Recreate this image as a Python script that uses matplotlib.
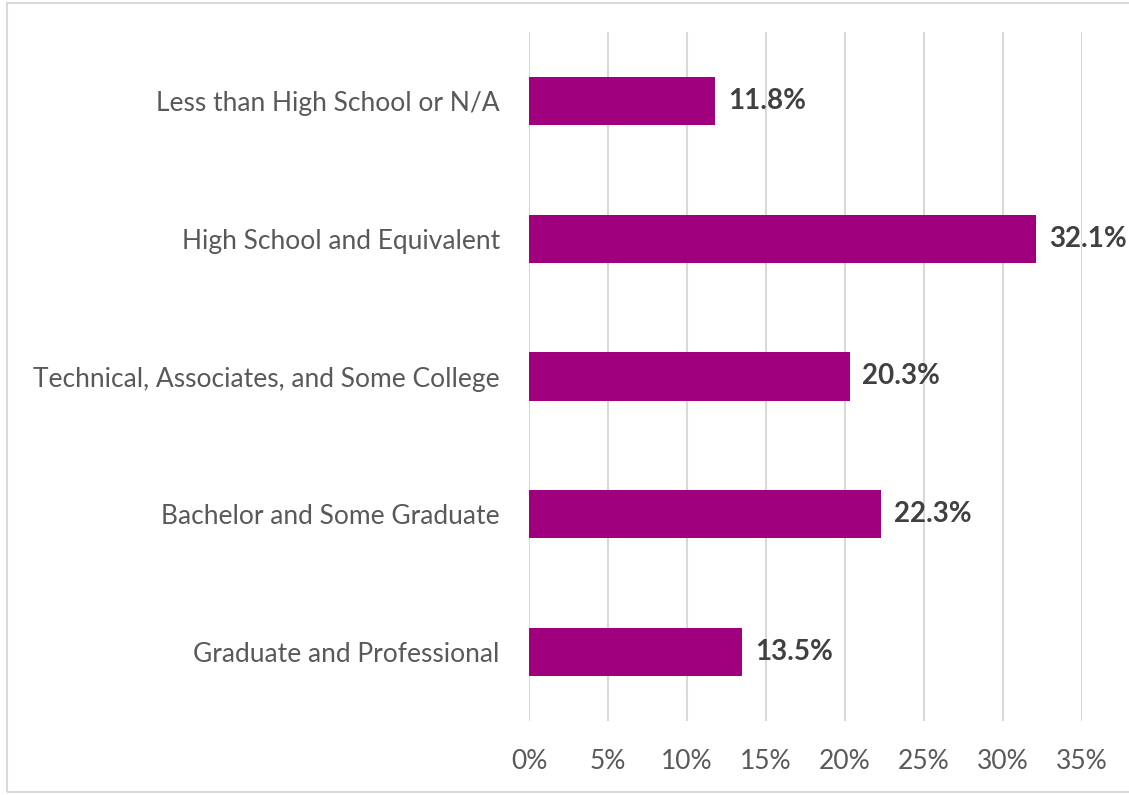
import matplotlib.pyplot as plt
from matplotlib.patches import Rectangle

# education levels, top to bottom
categories = [
    'Less than High School or N/A',
    'High School and Equivalent',
    'Technical, Associates, and Some College',
    'Bachelor and Some Graduate',
    'Graduate and Professional',
]
shares = [11.8, 32.1, 20.3, 22.3, 13.5]  # percent
x_ticks = [0, 5, 10, 15, 20, 25, 30, 35]

plt.rcParams['font.family'] = ['Lato', 'DejaVu Sans']

fig = plt.figure(figsize=(11.29, 7.95), dpi=100)
ax = fig.add_axes([529 / 1129, 1 - 721 / 795, 553 / 1129, 689 / 795])

# outer chart border (light grey frame)
fig.patches.append(Rectangle((7 / 1129, 3 / 795), 1.1, 789 / 795,
                             transform=fig.transFigure, fill=False,
                             edgecolor='#d9d9d9', linewidth=1.5))

ypos = list(range(len(categories)))[::-1]
ax.barh(ypos, shares, height=0.35, color='#a0007e', zorder=3)

for y, v in zip(ypos, shares):
    ax.text(v + 0.8, y, f'{v:.1f}%', va='center', ha='left',
            fontsize=20, fontweight='bold', color='#404040', zorder=4)

ax.set_xlim(0, 35)
ax.set_ylim(-0.5, len(categories) - 0.5)
ax.set_xticks(x_ticks)
ax.set_xticklabels([f'{t}%' for t in x_ticks])
ax.set_yticks(ypos)
ax.set_yticklabels(categories)
ax.tick_params(axis='both', length=0, labelsize=19, labelcolor='#595959')
ax.tick_params(axis='x', pad=20)
ax.tick_params(axis='y', pad=21)

ax.grid(axis='x', color='#d9d9d9', linewidth=1.5, zorder=0)
for s in ax.spines.values():
    s.set_visible(False)

fig.savefig('out.png', dpi=100)
